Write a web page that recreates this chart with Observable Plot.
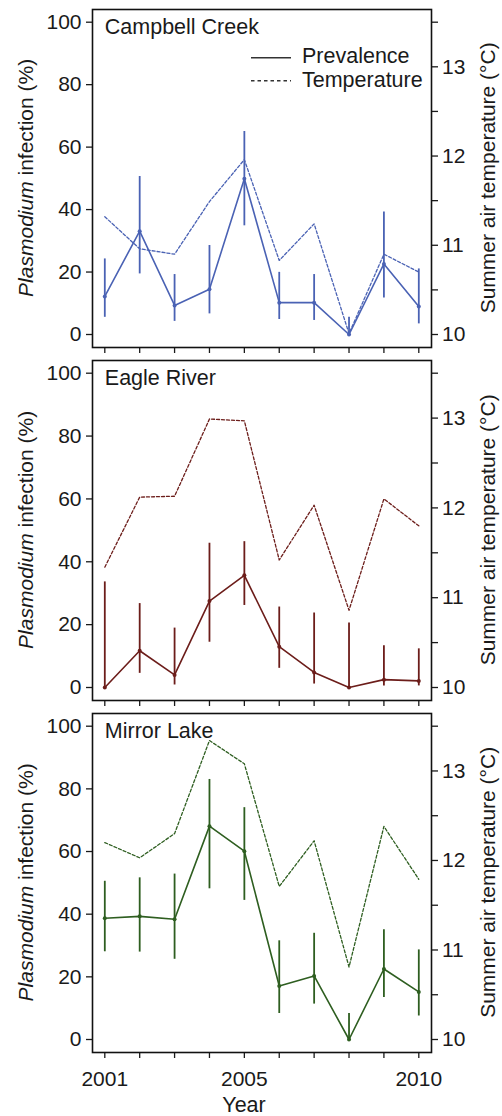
<!DOCTYPE html>
<html><head><meta charset="utf-8">
<script src="https://cdn.jsdelivr.net/npm/d3@7"></script>
<script src="https://cdn.jsdelivr.net/npm/@observablehq/plot@0.6"></script>
<style>
body{margin:0;background:#fff;}
#chart svg{display:block;}
</style></head><body><div id="chart"></div>
<script>
// ---------- data ----------
const years = [2001,2002,2003,2004,2005,2006,2007,2008,2009,2010];
const sites = ["Campbell Creek","Eagle River","Mirror Lake"];
const siteColors = ["#4a62b4","#6c1d1a","#2e5e20"];

const campbellPrev = [12.2,33.1,9.3,14.5,49.9,10.2,10.2,0,22.6,9.0];
const campbellLow  = [5.5,19.4,4.2,6.6,34.8,4.8,4.5,0,11.7,3.4];
const campbellHigh = [24.2,50.6,19.2,28.5,65.0,19.9,19.2,5.5,39.2,21.0];
const campbellTemp = [11.32,10.96,10.90,11.49,11.96,10.83,11.24,10.01,10.90,10.70];

const eaglePrev = [0,11.7,4.0,27.5,35.7,13.0,4.8,0,2.5,2.1];
const eagleLow  = [0,4.5,0.8,14.4,26.1,6.1,1.1,0,0.5,0.5];
const eagleHigh = [33.6,26.7,18.9,45.9,46.4,25.6,23.7,20.5,13.3,12.3];
const eagleTemp = [11.34,12.12,12.13,12.99,12.97,11.42,12.03,10.86,12.10,11.80];

const mirrorPrev = [38.7,39.3,38.4,68.1,60.1,17.1,20.3,0,22.5,15.2];
const mirrorLow  = [28.0,27.9,25.6,48.1,44.4,8.3,11.3,0,13.4,7.5];
const mirrorHigh = [50.5,51.6,52.8,83.0,74.0,31.5,33.9,8.3,35.0,28.6];
const mirrorTemp = [12.20,12.03,12.30,13.34,13.08,11.71,12.22,10.81,12.38,11.79];

const prevTicks = [0,20,40,60,80,100];
const tempTicks = [10,11,12,13];
const tempMinorTicks = [10.5,11.5,12.5,13.5];
const tempDomain = [10,13.5];
const yearLabels = [2001,2005,2010];
const legendLabels = ["Prevalence","Temperature"];
const xTitle = "Year";
const yTitleItalic = "Plasmodium";
const yTitleRest = " infection (%)";
const y2Title = "Summer air temperature (°C)";

// ---------- build ----------
const prevs = [campbellPrev, eaglePrev, mirrorPrev];
const lows = [campbellLow, eagleLow, mirrorLow];
const highs = [campbellHigh, eagleHigh, mirrorHigh];
const temps = [campbellTemp, eagleTemp, mirrorTemp];

const toPct = t => (t - tempDomain[0]) / (tempDomain[1] - tempDomain[0]) * 100;
const fromPct = p => tempDomain[0] + p / 100 * (tempDomain[1] - tempDomain[0]);

const FONT = "'Liberation Sans', Arial, Helvetica, sans-serif";
const INK = "#1a1a1a";
const layouts = [
  {height: 355, marginTop: 9, marginBottom: 8},
  {height: 353, marginTop: 5, marginBottom: 8},
  {height: 408, marginTop: 5, marginBottom: 64}
];

const root = document.getElementById("chart");

sites.forEach((site, i) => {
  const color = siteColors[i];
  const L = layouts[i];
  const last = i === sites.length - 1;
  const rows = years.map((year, j) => ({
    year, prev: prevs[i][j], lo: lows[i][j], hi: highs[i][j], temp: temps[i][j]
  }));
  const plot = Plot.plot({
    width: 502, height: L.height,
    marginLeft: 92, marginRight: 71, marginTop: L.marginTop, marginBottom: L.marginBottom,
    style: {fontFamily: FONT, fontSize: "21px", background: "#fff", color: INK},
    x: {type: "linear", domain: [years[0], years[years.length - 1]], insetLeft: 12.3, insetRight: 12.7},
    y: {domain: [0, 100], insetTop: 12.7, insetBottom: 13},
    marks: [
      Plot.axisY(prevTicks, {anchor: "left", tickSize: 6, tickPadding: 5, tickFormat: d => String(d), label: null, strokeWidth: 1.3}),
      Plot.axisY(tempTicks.map(toPct), {anchor: "right", tickSize: 6, tickPadding: 4.5,
        tickFormat: d => String(Math.round(fromPct(d))), label: null, strokeWidth: 1.3}),
      Plot.axisY(tempMinorTicks.map(toPct), {anchor: "right", tickSize: 6, tickFormat: () => "", label: null, strokeWidth: 1.3}),
      Plot.axisX(years, {anchor: "bottom", tickSize: 6, tickPadding: 12.7,
        tickFormat: d => (last && yearLabels.includes(d)) ? String(d) : "", label: null, strokeWidth: 1.3}),
      Plot.line(rows, {x: "year", y: d => toPct(d.temp), stroke: color, strokeWidth: 1.3, strokeDasharray: "3,2"}),
      Plot.ruleX(rows, {x: "year", y1: "lo", y2: "hi", stroke: color, strokeWidth: 1.8}),
      Plot.line(rows, {x: "year", y: "prev", stroke: color, strokeWidth: 1.6}),
      Plot.dot(rows, {x: "year", y: "prev", r: 2, fill: color}),
      Plot.text([site], {x: () => years[0], y: () => prevTicks[prevTicks.length - 1], text: d => d,
        textAnchor: "start", lineAnchor: "bottom", dy: 12, fontSize: 21.5, fill: INK}),
      Plot.frame({stroke: "#111", strokeWidth: 1.6})
    ]
  });
  root.appendChild(plot);
  const svg = d3.select(plot);
  const ys = plot.scale("y");
  const cy = (ys.apply(0) + ys.apply(100)) / 2;

  // left axis title
  const t1 = svg.append("text")
    .attr("transform", `translate(33,${cy}) rotate(-90)`)
    .attr("text-anchor", "middle").attr("fill", INK)
    .style("font-size", "21px").style("font-family", FONT);
  t1.append("tspan").attr("font-style", "italic").text(yTitleItalic);
  t1.append("tspan").text(yTitleRest);

  // right axis title
  svg.append("text")
    .attr("transform", `translate(495,${cy}) rotate(-90)`)
    .attr("text-anchor", "middle").attr("fill", INK)
    .style("font-size", "21px").style("font-family", FONT)
    .text(y2Title);

  if (i === 0) {
    const lg = svg.append("g").style("font-family", FONT).style("font-size", "21.5px")
      .attr("text-anchor", "start");
    const dashes = [null, "3.5,3"];
    legendLabels.forEach((lab, k) => {
      const yy = 57.7 + 23 * k;
      lg.append("line").attr("x1", 251).attr("x2", 291).attr("y1", yy).attr("y2", yy)
        .attr("stroke", "#333").attr("stroke-width", 1.6)
        .attr("stroke-dasharray", dashes[k]);
      lg.append("text").attr("x", 302).attr("y", yy + 5.5 + 0.3 * k)
        .attr("text-anchor", "start").attr("fill", INK).text(lab);
    });
  }
  if (last) {
    svg.append("text").attr("x", 244).attr("y", 404)
      .attr("text-anchor", "middle").attr("fill", INK)
      .style("font-size", "21.5px").style("font-family", FONT)
      .text(xTitle);
  }
});
</script></body></html>
